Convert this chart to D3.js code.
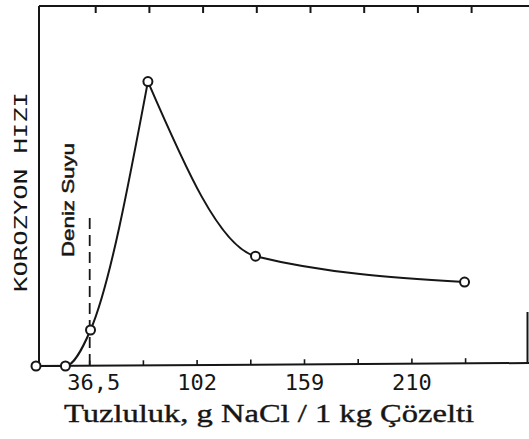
<!DOCTYPE html>
<html>
<head>
<meta charset="utf-8">
<script src="https://cdn.jsdelivr.net/npm/d3@7"></script>
<style>
  html, body { margin: 0; padding: 0; background: #ffffff; }
  svg { display: block; }
</style>
</head>
<body>
<svg id="chart" width="529" height="439"></svg>
<script>
// ---- data ----
const xStopValues = [0, 36.5, 102, 159, 210];      // salinity values at labelled ticks (g NaCl / 1 kg)
const xStopTickIndex = [0, 1, 3, 5, 7];             // which (equally spaced) tick each value sits on
const tickLabels = ["36,5", "102", "159", "210"];
const tickLabelValues = [36.5, 102, 159, 210];
const salinity = [0, 20, 37, 72, 133, 235];         // g NaCl / 1 kg solution
const corrosionRate = [0, 0, 1.0, 7.9, 3.05, 2.33]; // relative units
const seawaterSalinity = 36.5;
const seawaterLabel = "Deniz Suyu";
const yTitle = "KOROZYON HIZI";
const xTitle = "Tuzluluk, g NaCl / 1 kg Çözelti";

// ---- layout ----
const W = 529, H = 439;
const X0 = 36, STEP = 53.7;
const Y_BOTTOM = 366, Y_TOP = 6;
const INK = "#161616";

const svg = d3.select("#chart");
svg.append("rect").attr("width", W).attr("height", H).attr("fill", "#ffffff");

const tickPos = d3.scaleLinear().domain([0, 1]).range([X0, X0 + STEP]);
const x = d3.scaleLinear()
  .domain(xStopValues)
  .range(xStopTickIndex.map(i => tickPos(i)));
const y = d3.scaleLinear().domain([0, 10]).range([Y_BOTTOM, Y_TOP]);

// ---- frame ----
const frame = svg.append("g").attr("stroke", INK).attr("fill", "none").attr("stroke-width", 2);
frame.append("line").attr("x1", 39).attr("x2", W).attr("y1", Y_TOP).attr("y2", Y_TOP);
frame.append("line").attr("x1", 39).attr("x2", 39).attr("y1", Y_TOP).attr("y2", Y_BOTTOM);
frame.append("line").attr("x1", 34).attr("x2", W).attr("y1", Y_BOTTOM).attr("y2", Y_BOTTOM - 3);
frame.append("line").attr("x1", 527.5).attr("x2", 527.5).attr("y1", 312).attr("y2", Y_BOTTOM - 3);

// ticks (equally spaced)
const tickIdx = d3.range(1, 9);
frame.selectAll(".bt").data(tickIdx).join("line")
  .attr("class", "bt")
  .attr("x1", d => tickPos(d)).attr("x2", d => tickPos(d))
  .attr("y1", d => Y_BOTTOM - d * 0.35).attr("y2", d => Y_BOTTOM - d * 0.35 - 5)
  .attr("stroke-width", 1.6);
frame.selectAll(".tt").data(tickIdx).join("line")
  .attr("class", "tt")
  .attr("x1", d => tickPos(d) + 6).attr("x2", d => tickPos(d) + 6)
  .attr("y1", Y_TOP).attr("y2", Y_TOP + 7)
  .attr("stroke-width", 2);

// tick labels
svg.append("g").selectAll("text").data(tickLabels).join("text")
  .attr("x", (d, i) => x(tickLabelValues[i]) + (i === 0 ? 4 : 0))
  .attr("y", 390)
  .attr("text-anchor", "middle")
  .attr("font-family", "DejaVu Sans Mono, monospace")
  .attr("font-size", 22)
  .attr("fill", INK)
  .text(d => d);

// axis titles
svg.append("text")
  .attr("transform", "translate(27,192) rotate(-90)")
  .attr("text-anchor", "middle")
  .attr("font-family", "DejaVu Sans Mono, monospace")
  .attr("font-size", 18)
  .attr("textLength", 200)
  .attr("lengthAdjust", "spacingAndGlyphs")
  .attr("fill", INK)
  .text(yTitle);

svg.append("text")
  .attr("x", 269).attr("y", 422)
  .attr("text-anchor", "middle")
  .attr("font-family", "Liberation Serif, serif")
  .attr("font-size", 26)
  .attr("textLength", 410)
  .attr("lengthAdjust", "spacingAndGlyphs")
  .attr("fill", INK)
  .attr("stroke", INK).attr("stroke-width", 0.4)
  .text(xTitle);

// seawater marker
svg.append("line")
  .attr("x1", x(seawaterSalinity)).attr("x2", x(seawaterSalinity))
  .attr("y1", 218).attr("y2", Y_BOTTOM)
  .attr("stroke", INK).attr("stroke-width", 1.8)
  .attr("stroke-dasharray", "11,6");

svg.append("text")
  .attr("transform", `translate(73.5,200) rotate(-90)`)
  .attr("text-anchor", "middle")
  .attr("font-family", "Liberation Sans, Arial, sans-serif")
  .attr("font-size", 17)
  .attr("textLength", 114)
  .attr("lengthAdjust", "spacingAndGlyphs")
  .attr("fill", INK)
  .attr("stroke", INK).attr("stroke-width", 0.5)
  .text(seawaterLabel);

// ---- curve ----
const pts = salinity.map((s, i) => ({ s, r: corrosionRate[i] }));
const peak = d3.maxIndex(corrosionRate);
const line = d3.line().x(d => x(d.s)).y(d => y(d.r)).curve(d3.curveMonotoneX);

svg.append("path").datum(pts.slice(0, peak + 1))
  .attr("d", line).attr("fill", "none").attr("stroke", INK).attr("stroke-width", 2);
svg.append("path").datum(pts.slice(peak))
  .attr("d", line).attr("fill", "none").attr("stroke", INK).attr("stroke-width", 2);

svg.append("g").selectAll("circle").data(pts).join("circle")
  .attr("cx", d => x(d.s)).attr("cy", d => y(d.r))
  .attr("r", 4.5)
  .attr("fill", "#ffffff").attr("stroke", INK).attr("stroke-width", 2);
</script>
</body>
</html>
